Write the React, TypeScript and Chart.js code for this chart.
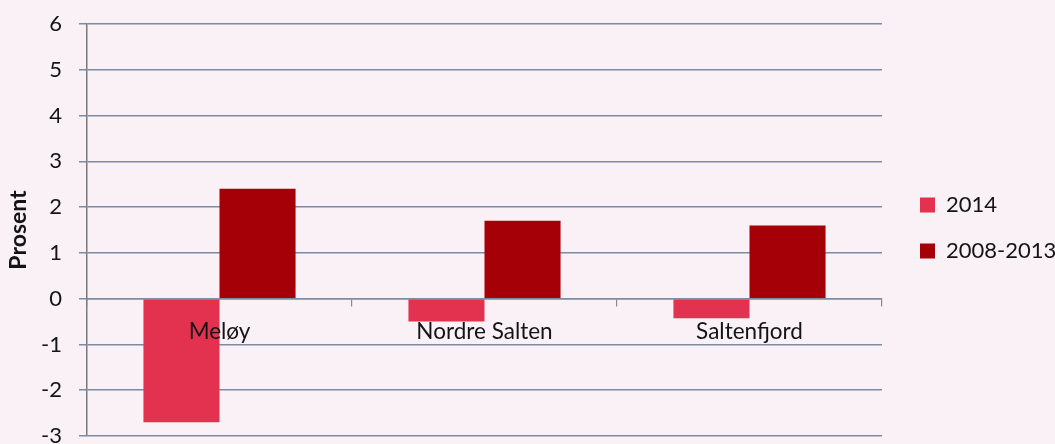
import React, { useEffect, useRef } from "react";
import { Chart, registerables } from "chart.js";

Chart.register(...registerables);

const categories = ["Meløy", "Nordre Salten", "Saltenfjord"];
const seriesNames = ["2014", "2008-2013"];
const values2014 = [-2.7, -0.5, -0.43];
const values20082013 = [2.4, 1.7, 1.6];
const yMin = -3;
const yMax = 6;
const yStep = 1;

const FONT = "Lato, 'Open Sans', sans-serif";
const TEXT = "#141414";

export default function App() {
  const ref = useRef<HTMLCanvasElement>(null);

  useEffect(() => {
    if (!ref.current) return;
    const legendPlace = {
      id: "legendPlace",
      beforeLayout(chart: any) {
        const lg = chart.legend;
        if (lg && !lg.__wrapped) {
          const orig = lg.fit;
          lg.fit = function () {
            orig.call(this);
            this.width = 173;
          };
          lg.__wrapped = true;
        }
      },
      afterLayout(chart: any) {
        const lg = chart.legend;
        if (!lg) return;
        const w = lg.width;
        const h = lg.height;
        lg.left = 896;
        lg.right = 896 + w;
        lg.top = 170;
        lg.bottom = 170 + h;
      },
    };

    const chart = new Chart(ref.current, {
      type: "bar",
      data: {
        labels: categories,
        datasets: [
          {
            label: seriesNames[0],
            data: values2014,
            backgroundColor: "#e3324f",
            borderWidth: 0,
          },
          {
            label: seriesNames[1],
            data: values20082013,
            backgroundColor: "#a50008",
            borderWidth: 0,
          },
        ],
      },
      options: {
        animation: false,
        responsive: true,
        maintainAspectRatio: false,
        layout: { padding: { left: 0, right: 0, top: 24, bottom: 8 } },
        datasets: {
          bar: { categoryPercentage: 0.574, barPercentage: 1 },
        },
        plugins: {
          tooltip: { enabled: false },
          legend: {
            position: "right",
            align: "start",
            labels: {
              boxWidth: 15,
              boxHeight: 15,
              padding: 24,
              color: TEXT,
              font: { family: FONT, size: 22 },
            },
          },
        },
        scales: {
          x: {
            position: { y: 0 } as any,
            afterFit: (scale: any) => {
              scale.height = 0;
            },
            grid: {
              display: true,
              drawOnChartArea: false,
              drawTicks: true,
              tickLength: 7,
              color: "#8a8a8a",
              lineWidth: 1.2,
            },
            border: { display: true, color: "#7d8ba3", width: 1.5 },
            ticks: {
              z: 1,
              padding: 13,
              color: TEXT,
              font: { family: FONT, size: 22.5 },
              maxRotation: 0,
            },
          },
          y: {
            min: yMin,
            max: yMax,
            afterFit: (scale: any) => {
              scale.width = 87;
              scale.paddingTop = 0;
              scale.paddingBottom = 0;
            },
            ticks: {
              stepSize: yStep,
              padding: 17,
              color: TEXT,
              font: { family: FONT, size: 22 },
            },
            grid: {
              color: "#7d8ba3",
              lineWidth: 1.5,
              tickLength: 8,
            },
            border: { display: true, color: "#7a7a7a", width: 1.5 },
            title: {
              display: true,
              text: "Prosent",
              color: TEXT,
              padding: { top: 5, bottom: 4 },
              font: { family: FONT, size: 23, weight: "bold" },
            },
          },
        },
      },
      plugins: [legendPlace],
    });
    return () => chart.destroy();
  }, []);

  return (
    <div
      style={{
        position: "absolute",
        left: 0,
        top: 0,
        width: 1055,
        height: 444,
        background: "#f9f1f5",
      }}
    >
      <canvas ref={ref} />
    </div>
  );
}
